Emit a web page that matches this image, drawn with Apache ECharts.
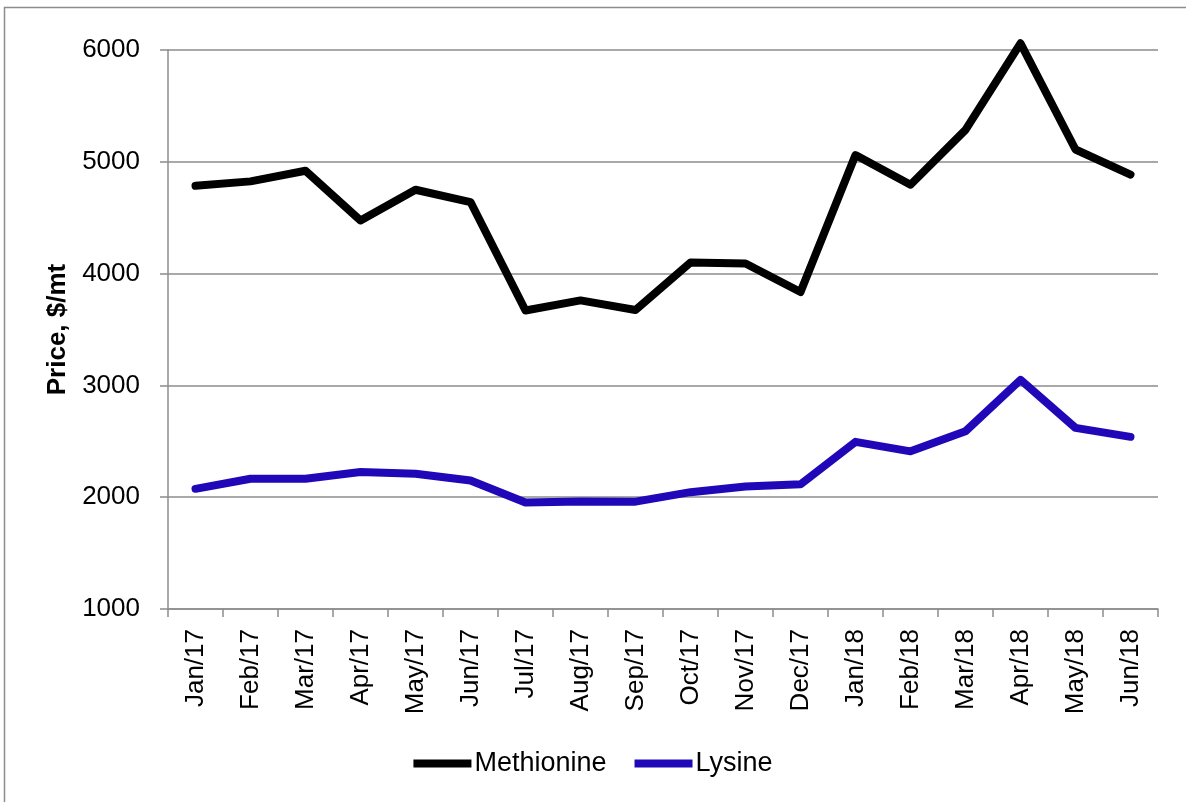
<!DOCTYPE html>
<html>
<head>
<meta charset="utf-8">
<title>Methionine and Lysine prices</title>
<script src="https://cdn.jsdelivr.net/npm/echarts@6/dist/echarts.min.js"></script>
<style>
  html, body { margin: 0; padding: 0; background: #fff; }
  #main { width: 1186px; height: 802px; }
</style>
</head>
<body>
<div id="main"></div>
<script>
// categories (month/year)
const months = [
  "Jan/17", "Feb/17", "Mar/17", "Apr/17", "May/17", "Jun/17",
  "Jul/17", "Aug/17", "Sep/17", "Oct/17", "Nov/17", "Dec/17",
  "Jan/18", "Feb/18", "Mar/18", "Apr/18", "May/18", "Jun/18"
];

// prices, $/mt
const methionine = [4785, 4825, 4920, 4475, 4750, 4640, 3670, 3760, 3675, 4100, 4090, 3835, 5060, 4795, 5285, 6060, 5110, 4885];
const lysine = [2075, 2165, 2165, 2225, 2210, 2150, 1952, 1962, 1960, 2045, 2095, 2115, 2495, 2410, 2590, 3050, 2620, 2540];

const seriesNames = ["Methionine", "Lysine"];
const seriesColors = ["#000000", "#2008b8"];

const gridGrey = "#8c8c8c";
const font = "Liberation Sans";

const myChart = echarts.init(document.getElementById("main"), null, { renderer: "canvas" });

const option = {
  backgroundColor: "#ffffff",
  animation: false,
  color: seriesColors,
  // outer frame of the chart area (only top and left show)
  graphic: [
    {
      type: "rect",
      shape: { x: 4.5, y: 7.5, width: 1300, height: 900 },
      style: { fill: "none", stroke: gridGrey, lineWidth: 1.5 },
      silent: true,
    },
  ],
  grid: {
    left: 168,
    right: 28,
    top: 50,
    bottom: 193,
  },
  legend: {
    bottom: 20,
    left: "center",
    data: seriesNames,
    icon: "rect",
    itemWidth: 58,
    itemHeight: 8,
    itemGap: 28,
    textStyle: {
      fontFamily: font,
      fontSize: 27,
      color: "#000",
      padding: [0, 0, 0, -2],
    },
  },
  xAxis: {
    type: "category",
    data: months,
    boundaryGap: true,
    axisLine: { lineStyle: { color: gridGrey, width: 1.5 } },
    axisTick: { show: true, length: 8, inside: false, lineStyle: { color: gridGrey, width: 1.5 } },
    axisLabel: {
      rotate: 90,
      interval: 0,
      margin: 20,
      fontFamily: font,
      fontSize: 26,
      color: "#000",
    },
  },
  yAxis: {
    type: "value",
    min: 1000,
    max: 6000,
    interval: 1000,
    name: "Price, $/mt",
    nameLocation: "middle",
    nameGap: 93,
    nameTextStyle: {
      fontFamily: font,
      fontSize: 26,
      fontWeight: "bold",
      color: "#000",
    },
    axisLine: { show: true, lineStyle: { color: gridGrey, width: 1.5 } },
    axisTick: { show: true, length: 8, lineStyle: { color: gridGrey, width: 1.5 } },
    axisLabel: {
      margin: 28,
      fontFamily: font,
      fontSize: 26,
      color: "#000",
      formatter: (v) => String(v),
    },
    splitLine: { lineStyle: { color: gridGrey, width: 1.5 } },
  },
  series: [
    {
      name: seriesNames[0],
      type: "line",
      data: methionine,
      symbol: "none",
      clip: false,
      lineStyle: { width: 8, color: seriesColors[0], cap: "round", join: "round" },
    },
    {
      name: seriesNames[1],
      type: "line",
      data: lysine,
      symbol: "none",
      clip: false,
      lineStyle: { width: 8, color: seriesColors[1], cap: "round", join: "round" },
    },
  ],
};

myChart.setOption(option);
</script>
</body>
</html>
